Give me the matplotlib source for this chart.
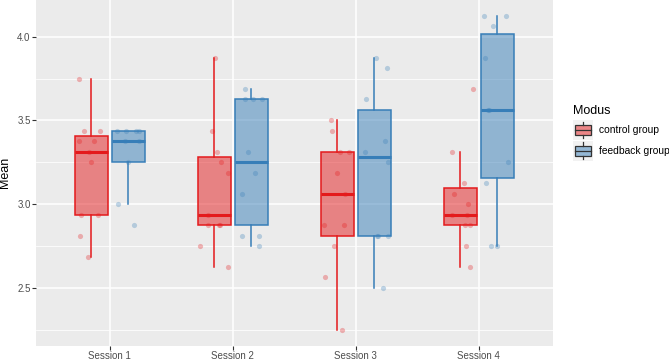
import numpy as np
import matplotlib.pyplot as plt
from matplotlib.colors import to_rgb
from matplotlib.patches import Rectangle
from matplotlib.lines import Line2D

plt.rcParams['font.family'] = ['Liberation Sans', 'DejaVu Sans']

sessions = ['Session 1', 'Session 2', 'Session 3', 'Session 4']
groups = ['control group', 'feedback group']
colors = ['#E41A1C', '#377EB8']

control = [
    [3.75, 3.4375, 3.4375, 3.375, 3.375, 3.3125, 3.25, 2.9375, 2.9375, 2.8125, 2.6875],
    [3.875, 3.4375, 3.3125, 3.25, 3.1875, 2.9375, 2.875, 2.875, 2.875, 2.75, 2.625],
    [3.5, 3.4375, 3.3125, 3.3125, 3.1875, 3.0625, 2.875, 2.875, 2.75, 2.5625, 2.25],
    [3.6875, 3.3125, 3.125, 3.0625, 3.0, 2.9375, 2.9375, 2.875, 2.875, 2.75, 2.625],
]
feedback = [
    [3.4375, 3.4375, 3.4375, 3.4375, 3.375, 3.375, 3.25, 3.0, 2.875],
    [3.6875, 3.625, 3.625, 3.625, 3.3125, 3.1875, 3.0625, 2.8125, 2.8125, 2.75],
    [3.875, 3.8125, 3.625, 3.375, 3.3125, 3.25, 2.8125, 2.8125, 2.8125, 2.5],
    [4.125, 4.125, 4.0625, 3.875, 3.5625, 3.5625, 3.25, 3.125, 2.75, 2.75],
]

W, H = 669, 360
fig = plt.figure(figsize=(W / 100, H / 100), dpi=100)
ax = fig.add_axes([36 / W, 14.5 / H, 516.7 / W, 345.5 / H])
ax.set_facecolor('#EBEBEB')
for s in ax.spines.values():
    s.set_visible(False)

rng = np.random.default_rng(3)
offset = 0.15
width = 0.27
x = np.arange(1, len(sessions) + 1)
for gi, (data, col) in enumerate(zip([control, feedback], colors)):
    pos = x + (gi * 2 - 1) * offset
    bp = ax.boxplot(data, positions=pos, widths=width, patch_artist=True,
                    showfliers=False, showcaps=False, zorder=3)
    for b in bp['boxes']:
        b.set_facecolor((*to_rgb(col), 0.5))
        b.set_edgecolor(col)
        b.set_linewidth(1.1)
    for w in bp['whiskers']:
        w.set_color(col)
        w.set_linewidth(1.1)
    for m in bp['medians']:
        m.set_color(col)
        m.set_linewidth(2.2)
    # jittered raw points
    for p, vals in zip(pos, data):
        jit = rng.uniform(-0.12, 0.12, len(vals))
        ax.scatter(p + jit, vals, s=14, color=col, alpha=0.3, lw=0, zorder=4)

ax.set_xlim(0.4, 4.6)
ax.set_ylim(2.15625, 4.21875)
ax.set_xticks(x)
ax.set_xticklabels(sessions)
ax.set_yticks([2.5, 3.0, 3.5, 4.0])
ax.set_yticks([2.25, 2.75, 3.25, 3.75], minor=True)
ax.grid(True, which='major', color='white', lw=1.1, zorder=0)
ax.grid(True, which='minor', axis='y', color='white', lw=0.55, zorder=0)
ax.set_axisbelow(True)
ax.tick_params(axis='both', which='major', colors='#333333', labelcolor='#4D4D4D',
               labelsize=7, length=2.7, width=0.8, pad=1.2)
ax.tick_params(axis='both', which='minor', length=0)
ax.set_ylabel('Mean', fontsize=9)
ax.yaxis.set_label_coords(-25 / 516.7, 0.5)


# legend drawn by hand (ggplot style keys), coords in pixels from top-left
def px(xp, yp):
    return xp / W, 1 - yp / H


fig.text(*px(572.5, 113.5), 'Modus', fontsize=9, ha='left', va='baseline')
for i, (lab, col) in enumerate(zip(groups, colors)):
    top = 120 + i * 20.5
    kx, kw, kh = 572.5, 20, 20
    fig.add_artist(Rectangle(px(kx, top + kh), kw / W, kh / H, transform=fig.transFigure,
                             facecolor='#F2F2F2', edgecolor='none'))
    bx0, bx1 = kx + 2, kx + kw - 2
    by0, by1 = top + 5, top + kh - 5
    fig.add_artist(Rectangle(px(bx0, by1), (bx1 - bx0) / W, (by1 - by0) / H, transform=fig.transFigure,
                             facecolor=(*to_rgb(col), 0.5), edgecolor='#333333', lw=0.9))
    cx, cy = kx + kw / 2, top + kh / 2
    for seg in [((bx0, cy), (bx1, cy)), ((cx, top + 2), (cx, by0)), ((cx, by1), (cx, top + kh - 2))]:
        (x0, y0), (x1, y1) = seg
        fig.add_artist(Line2D([x0 / W, x1 / W], [1 - y0 / H, 1 - y1 / H], transform=fig.transFigure,
                              color='#333333', lw=0.9))
    fig.text(*px(599, cy), lab, fontsize=7.4, ha='left', va='center')

fig.savefig('out.png', dpi=100)
